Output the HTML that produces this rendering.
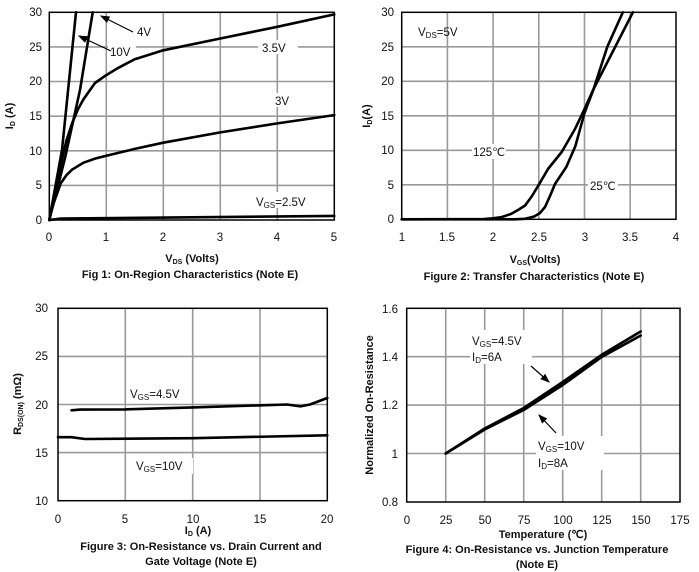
<!DOCTYPE html>
<html><head><meta charset="utf-8"><style>
html,body{margin:0;padding:0;background:#fff}
svg{display:block;font-family:"Liberation Sans",Arial,sans-serif}
.g{stroke:#9a9a9a;stroke-width:1.6}
.c{fill:none;stroke:#000;stroke-width:2.6;stroke-linejoin:round;stroke-linecap:round}
.t{font-size:11.5px;fill:#111}
.b{font-size:11px;font-weight:bold;fill:#111}
.l{font-size:11.5px;fill:#111}
</style></head><body>
<svg width="699" height="572" viewBox="0 0 699 572">
<defs><marker id="ar" markerWidth="8" markerHeight="8" refX="7" refY="4" orient="auto"><path d="M0,1 L8,4 L0,7z" fill="#000"/></marker></defs>
<!-- Chart 1 -->
<g class="g">
<line x1="106.3" y1="12.3" x2="106.3" y2="220"/><line x1="163.3" y1="12.3" x2="163.3" y2="220"/><line x1="220.3" y1="12.3" x2="220.3" y2="220"/><line x1="277.3" y1="12.3" x2="277.3" y2="220"/>
<line x1="49.3" y1="46.9" x2="334.3" y2="46.9"/><line x1="49.3" y1="81.5" x2="334.3" y2="81.5"/><line x1="49.3" y1="116.2" x2="334.3" y2="116.2"/><line x1="49.3" y1="150.8" x2="334.3" y2="150.8"/><line x1="49.3" y1="185.4" x2="334.3" y2="185.4"/>
</g>
<rect x="130" y="24" width="28" height="14" fill="#fff"/><rect x="108" y="44" width="28" height="14" fill="#fff"/>
<rect x="258" y="40" width="40" height="14" fill="#fff"/><rect x="272" y="93" width="24" height="14" fill="#fff"/><rect x="250" y="192" width="60" height="16" fill="#fff"/>
<rect x="49.3" y="12.3" width="285" height="207.7" fill="none" stroke="#000" stroke-width="1.5"/>
<path class="c" d="M49.3,220 L62,150 L76,12.3"/>
<path class="c" d="M49.3,220 L65,158 L80,90 L92.7,12.3"/>
<path class="c" d="M49.3,220 L55,192.4 L60.7,164.8 L66.4,140.6 L72.1,123.4 L77.8,109.6 L83.5,99.3 L95,83 L106.3,75.1 L117.7,68.2 L134.8,59.2 L163.3,50.3 L220.3,38.5 L277.3,26.8 L334.3,14.4"/>
<path class="c" d="M49.3,220 L52.2,207.6 L55,199.3 L60.7,183.4 L66.4,175.2 L72.1,169.6 L83.5,162.7 L95,158.6 L106.3,155.8 L134.8,148.9 L163.3,142.7 L220.3,132.4 L277.3,123.4 L334.3,115.1"/>
<path class="c" d="M49.3,220 L60.7,218.6 L334.3,215.9"/>
<line x1="133" y1="32" x2="101" y2="16" stroke="#000" stroke-width="1.2" marker-end="url(#ar)"/>
<line x1="111" y1="51" x2="79" y2="36" stroke="#000" stroke-width="1.2" marker-end="url(#ar)"/>
<text class="l" x="137" y="36">4V</text><text class="l" x="110" y="56">10V</text><text class="l" x="262" y="52">3.5V</text><text class="l" x="275" y="105">3V</text>
<text class="l" x="256" y="206">V<tspan font-size="8" dy="2">GS</tspan><tspan dy="-2">=2.5V</tspan></text>
<g class="t" text-anchor="end"><text x="42" y="16">30</text><text x="42" y="51">25</text><text x="42" y="85">20</text><text x="42" y="120">15</text><text x="42" y="155">10</text><text x="42" y="189">5</text><text x="42" y="224">0</text></g>
<g class="t" text-anchor="middle"><text x="49" y="241">0</text><text x="106" y="241">1</text><text x="163" y="241">2</text><text x="220" y="241">3</text><text x="277" y="241">4</text><text x="334" y="241">5</text></g>
<text class="b" x="192" y="262" text-anchor="middle">V<tspan font-size="7" dy="2">DS</tspan><tspan dy="-2"> (Volts)</tspan></text>
<text class="b" x="190" y="278" text-anchor="middle">Fig 1: On-Region Characteristics (Note E)</text>
<text class="b" transform="translate(13,116) rotate(-90)" text-anchor="middle">I<tspan font-size="7" dy="2">D</tspan><tspan dy="-2"> (A)</tspan></text>

<!-- Chart 2 -->
<g class="g">
<line x1="447.4" y1="12.3" x2="447.4" y2="219.3"/><line x1="493.1" y1="12.3" x2="493.1" y2="219.3"/><line x1="538.8" y1="12.3" x2="538.8" y2="219.3"/><line x1="584.5" y1="12.3" x2="584.5" y2="219.3"/><line x1="630.2" y1="12.3" x2="630.2" y2="219.3"/>
<line x1="401.7" y1="46.8" x2="676" y2="46.8"/><line x1="401.7" y1="81.3" x2="676" y2="81.3"/><line x1="401.7" y1="115.8" x2="676" y2="115.8"/><line x1="401.7" y1="150.3" x2="676" y2="150.3"/><line x1="401.7" y1="184.8" x2="676" y2="184.8"/>
</g>
<rect x="472" y="144" width="34" height="15" fill="#fff"/><rect x="588" y="178" width="30" height="15" fill="#fff"/>
<rect x="401.7" y="12.3" width="274.3" height="207" fill="none" stroke="#000" stroke-width="1.5"/>
<path class="c" d="M401.7,219.3 L484,219 L493.1,218.3 L502,217 L511.4,213.8 L518,210 L525.1,205.5 L532,196 L538.8,184.8 L548,169 L561.7,152 L575,129 L584.5,109 L593.6,89 L632.9,12.3"/>
<path class="c" d="M401.7,219.3 L515,219.3 L525,218.8 L534.2,216.5 L540,213 L545,207 L550,196 L555,184 L566.3,167 L575.4,146 L584.5,113 L593.6,89 L607.3,46.8 L622.8,12.3"/>
<text class="l" x="418" y="36">V<tspan font-size="8" dy="2">DS</tspan><tspan dy="-2">=5V</tspan></text>
<text class="l" x="473" y="156">125℃</text><text class="l" x="590" y="190">25℃</text>
<g class="t" text-anchor="end"><text x="394" y="16">30</text><text x="394" y="51">25</text><text x="394" y="85">20</text><text x="394" y="120">15</text><text x="394" y="154">10</text><text x="394" y="189">5</text><text x="394" y="223">0</text></g>
<g class="t" text-anchor="middle"><text x="402" y="241">1</text><text x="447" y="241">1.5</text><text x="493" y="241">2</text><text x="539" y="241">2.5</text><text x="585" y="241">3</text><text x="630" y="241">3.5</text><text x="676" y="241">4</text></g>
<text class="b" x="535" y="263" text-anchor="middle">V<tspan font-size="7" dy="2">GS</tspan><tspan dy="-2">(Volts)</tspan></text>
<text class="b" x="534" y="280" text-anchor="middle">Figure 2: Transfer Characteristics (Note E)</text>
<text class="b" transform="translate(370,116) rotate(-90)" text-anchor="middle">I<tspan font-size="7" dy="2">D</tspan><tspan dy="-2">(A)</tspan></text>

<!-- Chart 3 -->
<g class="g">
<line x1="125.3" y1="308.3" x2="125.3" y2="500.7"/><line x1="192.7" y1="308.3" x2="192.7" y2="500.7"/><line x1="260" y1="308.3" x2="260" y2="500.7"/>
<line x1="58" y1="356.4" x2="327.3" y2="356.4"/><line x1="58" y1="404.5" x2="327.3" y2="404.5"/><line x1="58" y1="452.6" x2="327.3" y2="452.6"/>
</g>
<rect x="128" y="386" width="56" height="15" fill="#fff"/><rect x="133" y="458" width="60" height="16" fill="#fff"/>
<rect x="58" y="308.3" width="269.3" height="192.4" fill="none" stroke="#000" stroke-width="1.5"/>
<path class="c" d="M71.5,410.3 L80,409.6 L125.3,409.4 L192.7,407.4 L287,404.5 L300.5,406.4 L310,404.5 L327.3,398"/>
<path class="c" d="M58,437.2 L71.5,437.2 L85,439 L192.7,438.2 L327.3,435.3"/>
<text class="l" x="130" y="398">V<tspan font-size="8" dy="2">GS</tspan><tspan dy="-2">=4.5V</tspan></text>
<text class="l" x="136" y="470">V<tspan font-size="8" dy="2">GS</tspan><tspan dy="-2">=10V</tspan></text>
<g class="t" text-anchor="end"><text x="48" y="312">30</text><text x="48" y="360">25</text><text x="48" y="409">20</text><text x="48" y="457">15</text><text x="48" y="505">10</text></g>
<g class="t" text-anchor="middle"><text x="58" y="523">0</text><text x="125" y="523">5</text><text x="193" y="523">10</text><text x="260" y="523">15</text><text x="327" y="523">20</text></g>
<text class="b" x="198" y="534" text-anchor="middle">I<tspan font-size="7" dy="2">D</tspan><tspan dy="-2"> (A)</tspan></text>
<text class="b" x="201" y="550" text-anchor="middle">Figure 3: On-Resistance vs. Drain Current and</text>
<text class="b" x="201" y="565" text-anchor="middle">Gate Voltage (Note E)</text>
<text class="b" transform="translate(21,404) rotate(-90)" text-anchor="middle">R<tspan font-size="7" dy="2">DS(ON)</tspan><tspan dy="-2"> (mΩ)</tspan></text>

<!-- Chart 4 -->
<g class="g">
<line x1="445.7" y1="308.3" x2="445.7" y2="502"/><line x1="484.7" y1="308.3" x2="484.7" y2="502"/><line x1="523.7" y1="308.3" x2="523.7" y2="502"/><line x1="562.7" y1="308.3" x2="562.7" y2="502"/><line x1="601.7" y1="308.3" x2="601.7" y2="502"/><line x1="640.7" y1="308.3" x2="640.7" y2="502"/>
<line x1="406.7" y1="356.7" x2="680" y2="356.7"/><line x1="406.7" y1="405.1" x2="680" y2="405.1"/><line x1="406.7" y1="453.5" x2="680" y2="453.5"/>
</g>
<rect x="470" y="330" width="62" height="34" fill="#fff"/><rect x="536" y="436" width="68" height="34" fill="#fff"/>
<rect x="406.7" y="308.3" width="273.3" height="193.7" fill="none" stroke="#000" stroke-width="1.5"/>
<path class="c" d="M445.7,453.5 L484.7,428.5 L523.7,408 L562.7,382 L601.7,354.8 L640.7,331.5"/>
<path class="c" d="M445.7,453.5 L484.7,429.5 L523.7,410 L562.7,385 L601.7,357 L640.7,335.5"/>
<line x1="531" y1="366" x2="549" y2="382" stroke="#000" stroke-width="1.2" marker-end="url(#ar)"/>
<line x1="556" y1="433" x2="539" y2="415" stroke="#000" stroke-width="1.2" marker-end="url(#ar)"/>
<text class="l" x="472" y="345">V<tspan font-size="8" dy="2">GS</tspan><tspan dy="-2">=4.5V</tspan></text>
<text class="l" x="472" y="361">I<tspan font-size="8" dy="2">D</tspan><tspan dy="-2">=6A</tspan></text>
<text class="l" x="538" y="450">V<tspan font-size="8" dy="2">GS</tspan><tspan dy="-2">=10V</tspan></text>
<text class="l" x="538" y="467">I<tspan font-size="8" dy="2">D</tspan><tspan dy="-2">=8A</tspan></text>
<g class="t" text-anchor="end"><text x="398" y="313">1.6</text><text x="398" y="361">1.4</text><text x="398" y="409">1.2</text><text x="398" y="458">1</text><text x="398" y="506">0.8</text></g>
<g class="t" text-anchor="middle"><text x="407" y="524">0</text><text x="446" y="524">25</text><text x="485" y="524">50</text><text x="524" y="524">75</text><text x="563" y="524">100</text><text x="602" y="524">125</text><text x="641" y="524">150</text><text x="680" y="524">175</text></g>
<text class="b" x="543" y="538" text-anchor="middle">Temperature (℃)</text>
<text class="b" x="537" y="553" text-anchor="middle">Figure 4: On-Resistance vs. Junction Temperature</text>
<text class="b" x="537" y="568" text-anchor="middle">(Note E)</text>
<text class="b" transform="translate(373,405) rotate(-90)" text-anchor="middle">Normalized On-Resistance</text>
</svg>
</body></html>
